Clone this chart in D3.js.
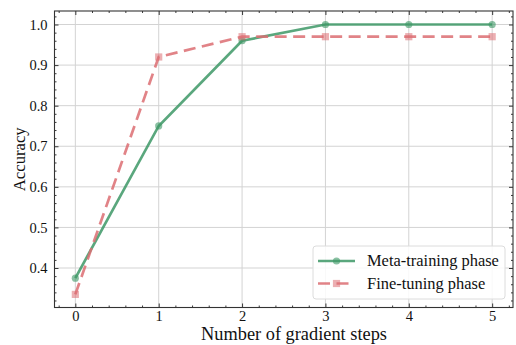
<!DOCTYPE html>
<html><head><meta charset="utf-8">
<script src="https://cdn.jsdelivr.net/npm/d3@7"></script>
<style>body{margin:0;background:#fff}svg{display:block}text{font-family:"Liberation Serif","Times New Roman",serif;fill:#111}</style>
</head><body><div id="c"></div>
<script>
const steps = [0, 1, 2, 3, 4, 5];
const metaTraining = [0.375, 0.75, 0.96, 1.0, 1.0, 1.0];
const fineTuning = [0.335, 0.92, 0.97, 0.97, 0.97, 0.97];
const xTicks = [0, 1, 2, 3, 4, 5];
const yTicks = [0.4, 0.5, 0.6, 0.7, 0.8, 0.9, 1.0];
const seriesNames = ["Meta-training phase", "Fine-tuning phase"];

const W = 516, H = 345;
const m = {l: 54.5, r: 3, t: 11, b: 37.5};
const svg = d3.select("#c").append("svg").attr("width", W).attr("height", H);
const x = d3.scaleLinear().domain([-0.25, 5.25]).range([m.l, W - m.r]);
const y = d3.scaleLinear().domain([0.3027, 1.0333]).range([H - m.b, m.t]);
const pw = W - m.r - m.l, ph = H - m.b - m.t;

function fit(t, target, base) {
  const w = t.node().getComputedTextLength();
  t.style("font-size", (base * target / w).toFixed(2) + "px");
}

const g = svg.append("g");
g.selectAll(".gx").data(xTicks).join("line").attr("x1", d => x(d)).attr("x2", d => x(d))
  .attr("y1", m.t).attr("y2", H - m.b).attr("stroke", "#d3d3d3").attr("stroke-width", 1);
g.selectAll(".gy").data(yTicks).join("line").attr("y1", d => y(d)).attr("y2", d => y(d))
  .attr("x1", m.l).attr("x2", W - m.r).attr("stroke", "#d3d3d3").attr("stroke-width", 1);

const xMinor = d3.range(-0.2, 5.25, 0.2).filter(v => Math.abs(v - Math.round(v)) > 1e-6);
const yMinor = d3.range(0.32, 1.033, 0.02).filter(v => Math.abs(v * 10 - Math.round(v * 10)) > 1e-6);
function styleAxis(sel) {
  sel.attr("font-family", null).attr("font-size", null);
  sel.select(".domain").remove();
  sel.selectAll(".tick line").attr("stroke", "#222").attr("stroke-width", 0.9);
  sel.selectAll("text").style("font-size", "14.5px").style("font-family", '"Liberation Serif","Times New Roman",serif').attr("fill", "#111");
}
svg.append("g").attr("transform", `translate(0,${H - m.b})`)
  .call(d3.axisBottom(x).tickValues(xTicks).tickFormat(d3.format("d")).tickSizeInner(-4).tickPadding(3)).call(styleAxis);
svg.append("g").attr("transform", `translate(0,${H - m.b})`)
  .call(d3.axisBottom(x).tickValues(xMinor).tickFormat("").tickSizeInner(-2)).call(styleAxis);
svg.append("g").attr("transform", `translate(0,${m.t})`)
  .call(d3.axisTop(x).tickValues(xTicks).tickFormat("").tickSizeInner(-4)).call(styleAxis);
svg.append("g").attr("transform", `translate(0,${m.t})`)
  .call(d3.axisTop(x).tickValues(xMinor).tickFormat("").tickSizeInner(-2)).call(styleAxis);
svg.append("g").attr("transform", `translate(${m.l},0)`)
  .call(d3.axisLeft(y).tickValues(yTicks).tickFormat(d3.format(".1f")).tickSizeInner(-4).tickPadding(7)).call(styleAxis);
svg.append("g").attr("transform", `translate(${m.l},0)`)
  .call(d3.axisLeft(y).tickValues(yMinor).tickFormat("").tickSizeInner(-2)).call(styleAxis);
svg.append("g").attr("transform", `translate(${W - m.r},0)`)
  .call(d3.axisRight(y).tickValues(yTicks).tickFormat("").tickSizeInner(-4)).call(styleAxis);
svg.append("g").attr("transform", `translate(${W - m.r},0)`)
  .call(d3.axisRight(y).tickValues(yMinor).tickFormat("").tickSizeInner(-2)).call(styleAxis);

svg.append("rect").attr("x", m.l).attr("y", m.t).attr("width", pw).attr("height", ph)
  .attr("fill", "none").attr("stroke", "#333").attr("stroke-width", 1.1);

const green = "#3d9866", red = "#dc6d72";
const line = d3.line().x((d, i) => x(steps[i])).y(d => y(d));
const redDash = "12,6.5";

function drawSeries(vals, color, dash, shape) {
  svg.append("path").datum(vals).attr("d", line).attr("fill", "none").attr("stroke", color)
    .attr("stroke-width", 2.7).attr("stroke-opacity", 0.85).attr("stroke-dasharray", dash);
  vals.forEach((v, i) => {
    if (shape === "circle") svg.append("circle").attr("cx", x(steps[i])).attr("cy", y(v)).attr("r", 3.6)
      .attr("fill", color).attr("fill-opacity", 0.6);
    else svg.append("rect").attr("x", x(steps[i]) - 3.6).attr("y", y(v) - 3.6).attr("width", 7.2).attr("height", 7.2)
      .attr("fill", color).attr("fill-opacity", 0.55);
  });
}
drawSeries(metaTraining, green, null, "circle");
drawSeries(fineTuning, red, redDash, "square");

const xl = svg.append("text").attr("x", 294).attr("y", 339.5).attr("text-anchor", "middle").style("font-size", "16px").text("Number of gradient steps");
fit(xl, 186, 16);
const yl = svg.append("text").attr("transform", `translate(24.5,${y(0.668)}) rotate(-90)`).attr("text-anchor", "middle").style("font-size", "16px").text("Accuracy");
fit(yl, 64, 16);

const lg = svg.append("g");
lg.append("rect").attr("x", 313).attr("y", 246).attr("width", 192).attr("height", 53).attr("rx", 3)
  .attr("fill", "#fff").attr("fill-opacity", 0.85).attr("stroke", "#dcdcdc").attr("stroke-width", 1);
const items = [{c: green, dash: null, s: "circle"}, {c: red, dash: redDash, s: "square"}];
items.forEach((it, i) => {
  const cy = 261 + i * 22.5;
  lg.append("line").attr("x1", 318).attr("x2", 355).attr("y1", cy).attr("y2", cy).attr("stroke", it.c)
    .attr("stroke-width", 2.7).attr("stroke-opacity", 0.85).attr("stroke-dasharray", it.dash);
  if (it.s === "circle") lg.append("circle").attr("cx", 336.5).attr("cy", cy).attr("r", 3.6).attr("fill", it.c).attr("fill-opacity", 0.6);
  else lg.append("rect").attr("x", 332.9).attr("y", cy - 3.6).attr("width", 7.2).attr("height", 7.2).attr("fill", it.c).attr("fill-opacity", 0.55);
  const t = lg.append("text").attr("x", 367).attr("y", cy + 5).style("font-size", "15px").text(seriesNames[i]);
  if (i === 0) fit(t, 132, 15);
});
const fs = lg.select("text").style("font-size");
lg.selectAll("text").style("font-size", fs);
</script></body></html>
